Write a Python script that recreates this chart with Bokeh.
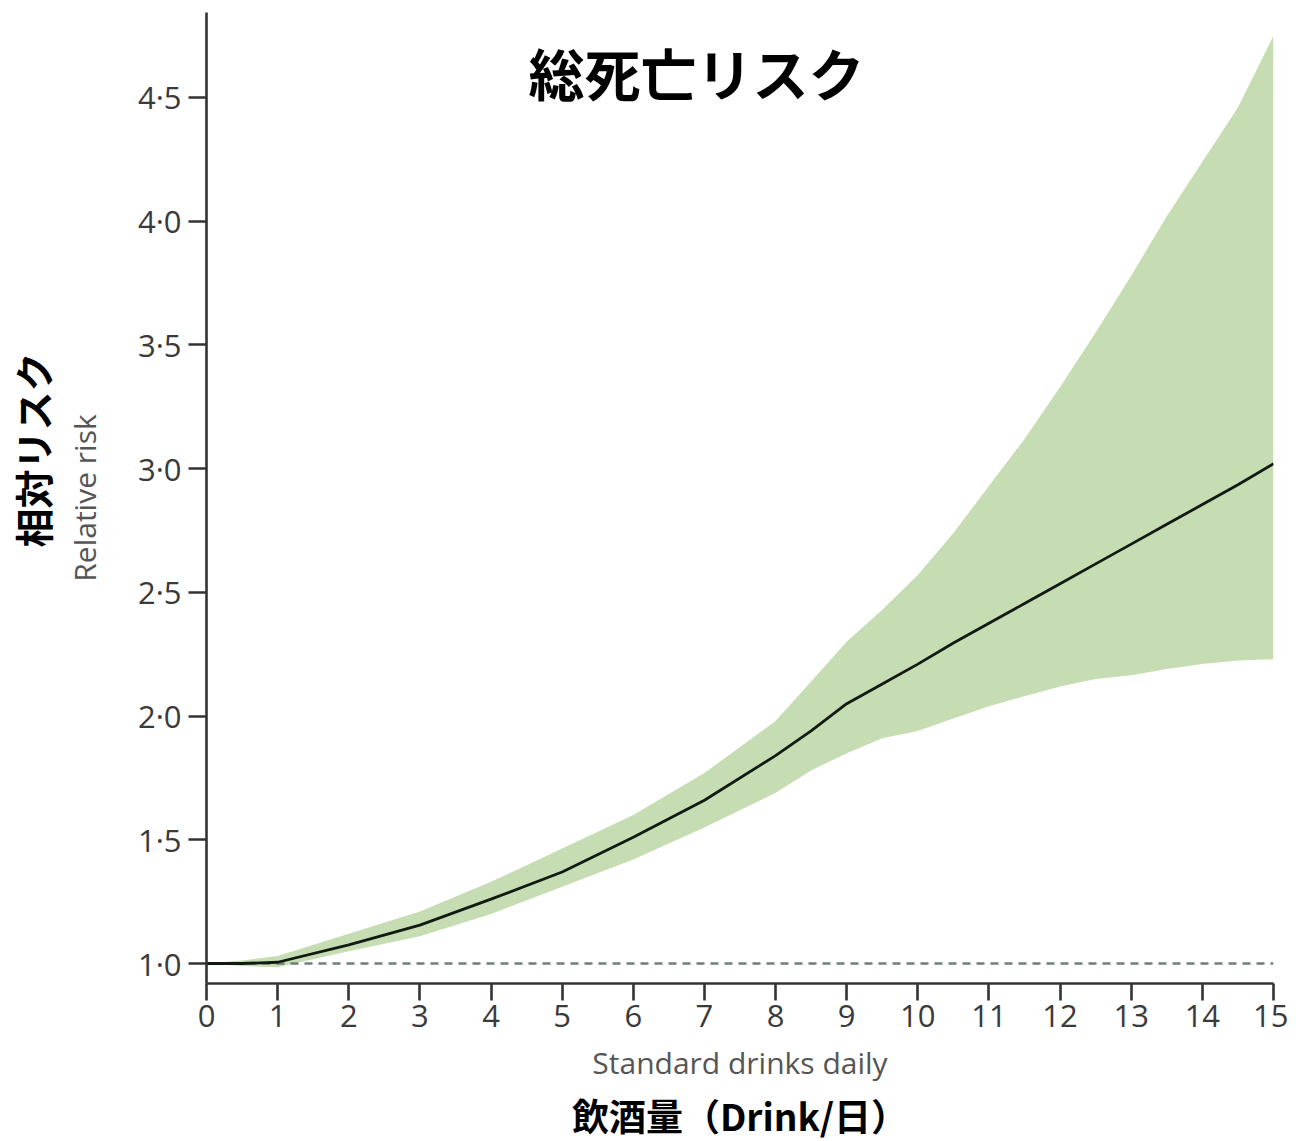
from bokeh.plotting import figure
from bokeh.models import Range1d, FixedTicker, CustomJSTickFormatter, Label, Title, ColumnDataSource
from bokeh.embed import file_html
from bokeh.resources import INLINE

# ---- data ----
drinks = [0, 0.5, 1, 2, 3, 4, 5, 6, 7, 8, 8.5, 9, 9.5, 10, 10.5, 11, 11.5, 12, 12.5, 13, 13.5, 14, 14.5, 15]
rr_mean = [1.0, 1.0, 1.005, 1.075, 1.155, 1.26, 1.37, 1.51, 1.66, 1.84, 1.94, 2.05, 2.13, 2.21, 2.295,
           2.375, 2.455, 2.535, 2.615, 2.695, 2.775, 2.855, 2.935, 3.02]
rr_upper = [1.0, 1.012, 1.03, 1.12, 1.21, 1.33, 1.465, 1.60, 1.77, 1.98, 2.14, 2.30, 2.43, 2.57, 2.74,
            2.93, 3.12, 3.33, 3.55, 3.78, 4.02, 4.24, 4.46, 4.75]
rr_lower = [1.0, 0.99, 0.985, 1.05, 1.11, 1.20, 1.31, 1.42, 1.55, 1.69, 1.78, 1.85, 1.91, 1.94, 1.99,
            2.04, 2.08, 2.12, 2.15, 2.165, 2.19, 2.21, 2.225, 2.23]
x_ticks = list(range(0, 16))
y_ticks = [1.0, 1.5, 2.0, 2.5, 3.0, 3.5, 4.0, 4.5]
reference_rr = 1.0

title_text = "総死亡リスク"
ylabel_ja = "相対リスク"
ylabel_en = "Relative risk"
xlabel_en = "Standard drinks daily"
xlabel_ja = "飲酒量（Drink/日）"

src = ColumnDataSource(dict(x=drinks, m=rr_mean, lo=rr_lower, hi=rr_upper))

p = figure(width=1288, height=1141, output_backend="svg", toolbar_location=None,
           x_range=Range1d(0, 15), y_range=Range1d(0.91917, 4.8435),
           min_border_left=206, min_border_right=15, min_border_top=12, min_border_bottom=155)
p.outline_line_color = None
p.grid.visible = False
p.background_fill_color = "white"
p.border_fill_color = "white"

p.varea(x="x", y1="lo", y2="hi", source=src, fill_color="#c6ddb3", fill_alpha=1.0)
p.line(x=[0, 15], y=[reference_rr, reference_rr], line_color="#6e7e7a", line_width=2.5, line_dash="8 6")
p.line(x="x", y="m", source=src, line_color="#111a11", line_width=2.8)

axis_col = "#333333"
tick_col = "#3a3a3a"
for ax in (p.xaxis[0], p.yaxis[0]):
    ax.axis_line_color = axis_col
    ax.axis_line_width = 2.6
    ax.major_tick_line_color = axis_col
    ax.major_tick_line_width = 2.6
    ax.minor_tick_line_color = None
    ax.major_tick_in = 0
    ax.major_label_text_color = tick_col
    ax.major_label_text_font = "Open Sans"
    ax.major_label_text_font_size = "31px"

p.xaxis[0].ticker = FixedTicker(ticks=x_ticks)
p.xaxis[0].major_tick_out = 17
p.xaxis[0].major_label_standoff = 4
p.xaxis[0].axis_label = xlabel_en
p.xaxis[0].axis_label_text_font = "Open Sans"
p.xaxis[0].axis_label_text_font_style = "normal"
p.xaxis[0].axis_label_text_font_size = "30px"
p.xaxis[0].axis_label_text_color = "#555555"
p.xaxis[0].axis_label_standoff = 12

p.yaxis[0].ticker = FixedTicker(ticks=y_ticks)
p.yaxis[0].major_tick_out = 18
p.yaxis[0].major_label_standoff = 7
p.yaxis[0].formatter = CustomJSTickFormatter(code="return tick.toFixed(1).replace('.', '\u00b7');")
p.yaxis[0].axis_label = ylabel_en
p.yaxis[0].axis_label_text_font = "Open Sans"
p.yaxis[0].axis_label_text_font_style = "normal"
p.yaxis[0].axis_label_text_font_size = "30px"
p.yaxis[0].axis_label_text_color = "#555555"
p.yaxis[0].axis_label_standoff = 30

p.add_layout(Title(text=ylabel_ja, align="left", offset=436, text_font="Noto Sans CJK JP",
                   text_font_style="bold", text_font_size="39px", text_color="black", standoff=2), "left")
p.add_layout(Title(text=xlabel_ja, align="center", text_font="Noto Sans CJK JP",
                   text_font_style="bold", text_font_size="37px", text_color="black", standoff=0), "below")

p.add_layout(Label(x=6.889, y=4.605, text=title_text, text_align="center", text_baseline="middle",
                   text_font="Noto Sans CJK JP", text_font_style="bold", text_font_size="56px",
                   text_color="black"))

open("out.html", "w").write(file_html(p, INLINE))
